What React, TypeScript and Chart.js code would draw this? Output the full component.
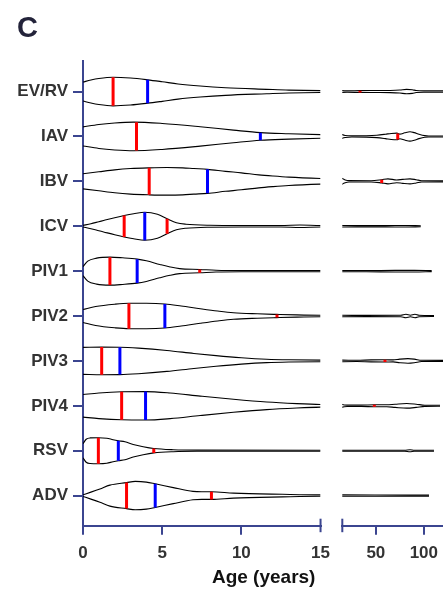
import React, { useEffect, useRef } from "react";
import { Chart, registerables } from "chart.js";

Chart.register(...registerables);

// Virus groups, top to bottom
const categories = ["EV/RV", "IAV", "IBV", "ICV", "PIV1", "PIV2", "PIV3", "PIV4", "RSV", "ADV"];

// Broken age axis: children (0–15) and adults (15 upwards)
const youngTicks = [0, 5, 10, 15];
const adultTicks = [50, 100];

// Age (years) sampling points and relative kernel density for each group
const evrvAge = [0, 0.5, 1, 1.9, 3, 4.08, 5, 6, 7.4, 9, 11.6, 13, 15, 20, 33.5, 50, 65, 75, 82, 88, 92, 100, 123];
const evrvDensity = [9.5, 11.5, 13, 14.3, 13.5, 11.7, 9.8, 7.6, 5.5, 3.8, 2.2, 1.4, 0.9, 0.7, 0.9, 1.0, 1.1, 1.5, 2.2, 1.8, 1.0, 0.7, 0.7];

const iavAge = [0, 1, 2, 3.2, 5, 7.4, 9.5, 11.2, 13, 15, 18, 25, 40, 51, 60, 66, 72, 75, 80, 85.6, 90, 95, 101, 105, 123];
const iavDensity = [9.5, 12, 13.5, 14.3, 13, 9.7, 6.3, 3.8, 2.7, 1.8, 1.0, 0.6, 0.7, 1.2, 2.2, 3.0, 3.3, 2.3, 3.6, 4.7, 3.8, 2.2, 0.8, 0.5, 0.5];

const ibvAge = [0, 1, 2, 3, 4.18, 5.3, 6.3, 7, 7.86, 9, 10, 11.1, 12, 13, 15, 18, 22, 45, 56, 62.6, 71.7, 78, 85.6, 92, 97.8, 123];
const ibvDensity = [7.5, 9.5, 11.5, 12.8, 13.5, 13.8, 13.5, 12.8, 12, 10, 8.5, 6.5, 5.3, 4.2, 2.8, 1.4, 0.7, 0.6, 1.6, 2.5, 1.4, 2.0, 2.5, 1.6, 0.6, 0.5];

const icvAge = [0, 0.5, 1, 1.3, 2, 2.6, 3.2, 3.9, 4.7, 5.31, 5.9, 6.5, 8, 10, 12.5, 13.7, 15, 30, 60, 80, 96.8];
const icvDensity = [0.8, 2.5, 4.5, 5.7, 8.5, 10.7, 12.5, 14, 12, 7.5, 3.5, 2.0, 1.0, 0.8, 0.8, 1.2, 0.7, 0.6, 0.6, 0.8, 0.5];

const piv1Age = [0, 0.3, 0.86, 1.7, 2.5, 3.42, 4, 4.85, 5.5, 6.1, 7.37, 8.4, 10, 15, 40, 70, 90, 108.2];
const piv1Density = [4.5, 10, 13, 14, 13.3, 12, 10.3, 6.7, 4.2, 2.5, 1.7, 0.9, 0.6, 0.6, 0.6, 0.8, 0.8, 0.5];

const piv2Age = [0, 0.8, 2, 2.9, 4, 5.17, 6.2, 7.4, 8.5, 9.5, 11, 12.25, 13.5, 15, 40, 76, 81.4, 86, 90.8, 95, 110.6];
const piv2Density = [6.5, 9.5, 11.8, 12.7, 12.7, 12, 10, 7.3, 5, 3.3, 2.2, 1.6, 1.1, 0.8, 0.6, 0.7, 1.7, 0.8, 1.7, 0.7, 0.5];

const piv3Age = [0, 1.18, 2.33, 3.5, 5.3, 7, 8.4, 10, 11.6, 13, 15, 30, 45, 59.5, 67.9, 75, 83.5, 90, 97.8, 123];
const piv3Density = [13.5, 13.8, 13.7, 12.8, 10.5, 7.5, 5.3, 3.2, 1.7, 1.1, 0.8, 0.6, 1.0, 1.1, 1.0, 1.8, 2.3, 1.8, 0.6, 0.5];

const piv4Age = [0, 1, 2.44, 3.95, 5.5, 7.4, 9.5, 11.6, 13.5, 15, 20, 35, 48.4, 61.3, 70, 82.2, 92, 101, 116.9];
const piv4Density = [11.3, 12.8, 14, 14.2, 12.8, 9.7, 6.5, 3.8, 2.2, 1.3, 0.7, 0.7, 1.0, 1.0, 1.6, 2.3, 1.6, 0.6, 0.5];

const rsvAge = [0, 0.2, 0.45, 0.97, 1.5, 1.9, 2.23, 2.65, 3.17, 3.8, 4.47, 5.7, 7.2, 15, 80, 85.6, 90, 110.6];
const rsvDensity = [7, 11.5, 12.8, 13, 12.5, 11, 10, 9, 6.3, 4, 2.2, 1.0, 0.6, 0.5, 0.5, 1.0, 0.5, 0.5];

const advAge = [0, 0.5, 1.07, 1.7, 2.75, 3.3, 4, 4.56, 5.7, 6.95, 7.5, 8.11, 9.5, 12.6, 15, 50, 105.4];
const advDensity = [0.8, 3.5, 6.7, 10.5, 13, 14.2, 13.5, 11.8, 8, 4.2, 3.8, 3.8, 2.5, 1.3, 0.7, 0.6, 0.5];

// Quartiles and median age per group (same order as categories)
const q1Age = [1.9, 3.38, 4.18, 2.6, 1.7, 2.9, 1.18, 2.44, 0.97, 2.75];
const medianAge = [4.08, 11.2, 7.86, 3.9, 3.42, 5.17, 2.33, 3.95, 2.23, 4.56];
const q3Age = [33.5, 72.8, 56.1, 5.31, 7.37, 12.25, 59.5, 48.4, 4.47, 8.11];

const violinProfiles: [number[], number[]][] = [
  [evrvAge, evrvDensity],
  [iavAge, iavDensity],
  [ibvAge, ibvDensity],
  [icvAge, icvDensity],
  [piv1Age, piv1Density],
  [piv2Age, piv2Density],
  [piv3Age, piv3Density],
  [piv4Age, piv4Density],
  [rsvAge, rsvDensity],
  [advAge, advDensity],
];

// Converts relative density to half-width in category-band units
const DENSITY_TO_HALF_WIDTH = 1 / 44.9;

const AXIS_COLOR = "#3b4590";
const LABEL_COLOR = "#333333";
const QUARTILE_COLOR = "#ff0000";
const MEDIAN_COLOR = "#0000ff";
const FONT = "'Liberation Sans', Arial, Helvetica, sans-serif";

function halfWidthAt(ages: number[], dens: number[], age: number): number {
  if (age <= ages[0]) return dens[0] * DENSITY_TO_HALF_WIDTH;
  for (let k = 1; k < ages.length; k++) {
    if (age <= ages[k]) {
      const t = (age - ages[k - 1]) / (ages[k] - ages[k - 1]);
      return (dens[k - 1] + t * (dens[k] - dens[k - 1])) * DENSITY_TO_HALF_WIDTH;
    }
  }
  return 0;
}

function buildDatasets(): any[] {
  const sets: any[] = [];
  violinProfiles.forEach(([ages, dens], i) => {
    [1, -1].forEach((sign) => {
      sets.push({
        type: "line",
        data: ages.map((a, k) => ({ x: a, y: i + sign * dens[k] * DENSITY_TO_HALF_WIDTH })),
        borderColor: "#000000",
        borderWidth: 1.1,
        pointRadius: 0,
        cubicInterpolationMode: "monotone",
        fill: false,
        order: 1,
      });
    });
    const marks: [number, string][] = [
      [q1Age[i], QUARTILE_COLOR],
      [medianAge[i], MEDIAN_COLOR],
      [q3Age[i], QUARTILE_COLOR],
    ];
    marks.forEach(([age, color]) => {
      const w = halfWidthAt(ages, dens, age);
      sets.push({
        type: "line",
        data: [
          { x: age, y: i - w },
          { x: age, y: i + w },
        ],
        borderColor: color,
        borderWidth: 3,
        borderCapStyle: "butt",
        pointRadius: 0,
        fill: false,
        order: 0,
      });
    });
  });
  return sets;
}

// Short caps that mark where the age axis is broken
const breakCap = {
  id: "breakCap",
  afterDraw(chart: any, _args: any, opts: any) {
    const x = chart.scales.x;
    const px = opts.side === "max" ? x.getPixelForValue(x.max) : x.getPixelForValue(x.min);
    const y = x.top;
    const ctx = chart.ctx;
    ctx.save();
    ctx.strokeStyle = AXIS_COLOR;
    ctx.lineWidth = 2;
    ctx.beginPath();
    ctx.moveTo(px, y - 7);
    ctx.lineTo(px, y + 6.5);
    ctx.stroke();
    ctx.restore();
  },
};

function chartOptions(part: "young" | "adult"): any {
  const young = part === "young";
  const tickFont = { family: FONT, size: 17, weight: "bold" as const };
  return {
    responsive: false,
    animation: false,
    events: [],
    layout: {
      padding: young
        ? { top: 61, right: 0, left: 0, bottom: 0 }
        : { top: 61, right: 0, left: 12.3, bottom: 0 },
    },
    plugins: {
      legend: { display: false },
      tooltip: { enabled: false },
      title: { display: false },
      breakCap: { side: young ? "max" : "min" },
    },
    scales: {
      x: {
        type: "linear",
        min: young ? 0 : 15,
        max: young ? 15 : 123,
        afterBuildTicks: (s: any) => {
          s.ticks = (young ? youngTicks : adultTicks).map((v) => ({ value: v }));
        },
        afterFit: (s: any) => {
          s.height = 68.3;
        },
        ticks: {
          font: tickFont,
          color: LABEL_COLOR,
          padding: 8,
          maxRotation: 0,
          autoSkip: false,
        },
        grid: {
          drawOnChartArea: false,
          drawTicks: true,
          tickLength: 9,
          lineWidth: 2,
          color: (ctx: any) =>
            ctx.tick && young && ctx.tick.value === 15 ? "rgba(0,0,0,0)" : AXIS_COLOR,
        },
        border: { display: true, color: AXIS_COLOR, width: 2 },
      },
      y: {
        type: "linear",
        display: young,
        reverse: true,
        min: -0.68,
        max: 9.67,
        afterBuildTicks: (s: any) => {
          s.ticks = categories.map((_, i) => ({ value: i }));
        },
        afterFit: (s: any) => {
          s.width = young ? 83 : 0;
        },
        ticks: {
          font: tickFont,
          color: LABEL_COLOR,
          padding: 5,
          autoSkip: false,
          callback: (_v: any, index: number) => categories[index],
        },
        grid: {
          drawOnChartArea: false,
          drawTicks: true,
          tickLength: 10,
          lineWidth: 2,
          color: AXIS_COLOR,
        },
        border: { display: true, color: AXIS_COLOR, width: 2 },
      },
    },
  };
}

function AgePanel({ part, left, width }: { part: "young" | "adult"; left: number; width: number }) {
  const ref = useRef<HTMLCanvasElement | null>(null);
  useEffect(() => {
    if (!ref.current) return;
    const chart = new Chart(ref.current, {
      type: "line",
      data: { datasets: buildDatasets() },
      options: chartOptions(part),
      plugins: [breakCap],
    } as any);
    return () => chart.destroy();
  }, [part]);
  return (
    <canvas
      ref={ref}
      width={width}
      height={594}
      style={{ position: "absolute", left, top: 0, width, height: 594 }}
    />
  );
}

export default function App() {
  return (
    <div
      style={{
        position: "absolute",
        left: 0,
        top: 0,
        width: 443,
        height: 594,
        background: "#ffffff",
        overflow: "hidden",
        fontFamily: FONT,
      }}
    >
      <AgePanel part="young" left={0} width={338} />
      <AgePanel part="adult" left={330} width={116} />
      <div
        style={{
          position: "absolute",
          left: 17,
          top: 13,
          fontSize: 29,
          lineHeight: "29px",
          fontWeight: "bold",
          color: "#23233a",
        }}
      >
        C
      </div>
      <div
        style={{
          position: "absolute",
          left: 163.7,
          width: 200,
          top: 567,
          textAlign: "center",
          fontSize: 19,
          lineHeight: "19px",
          fontWeight: "bold",
          color: "#111111",
          whiteSpace: "nowrap",
        }}
      >
        Age (years)
      </div>
    </div>
  );
}
